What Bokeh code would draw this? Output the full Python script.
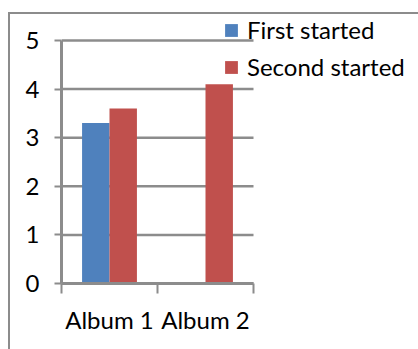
from bokeh.plotting import figure
from bokeh.layouts import column
from bokeh.models import Range1d, FixedTicker, ColumnDataSource, Legend, LegendItem
from bokeh.embed import file_html
from bokeh.resources import INLINE

# Data
albums = ["Album 1", "Album 2"]
first_started = [3.3, 0.0]
second_started = [3.6, 4.1]
y_ticks = [0, 1, 2, 3, 4, 5]

FONT = "Lato"
GREY = "#8c8c8c"
BLUE = "#4f81bd"
RED = "#c0504d"
FONT_SIZE = "24px"

# two bars per category with Excel's default 150% gap
n_series = 2
bar_w = 1.0 / (n_series + 1.5)
centers = [i + 0.5 for i in range(len(albums))]
n_cat = len(albums)
y_max = max(y_ticks)

src = ColumnDataSource(dict(
    x1=[c - bar_w / 2 for c in centers],
    x2=[c + bar_w / 2 for c in centers],
    first=first_started,
    second=second_started,
))

# the plotting area runs past the axes so that the legend fits inside it
p = figure(width=418, height=349, output_backend="svg", toolbar_location=None,
           x_range=Range1d(0, n_cat * 357 / 192), y_range=Range1d(0, y_max * 283 / 243),
           min_border_left=61, min_border_right=0,
           min_border_top=0, min_border_bottom=66)
p.outline_line_color = None
p.background_fill_color = None
p.border_fill_color = None
p.grid.visible = False

# horizontal gridlines across the category span only
p.segment(x0=0, x1=n_cat, y0=y_ticks, y1=y_ticks, line_color=GREY, line_width=2.5)

r1 = p.vbar(x="x1", top="first", width=bar_w, source=src, fill_color=BLUE, line_color=None)
r2 = p.vbar(x="x2", top="second", width=bar_w, source=src, fill_color=RED, line_color=None)

# y axis
p.yaxis.bounds = (0, y_max)
p.yaxis.ticker = FixedTicker(ticks=y_ticks, minor_ticks=[])
p.yaxis.axis_line_color = GREY
p.yaxis.axis_line_width = 3
p.yaxis.major_tick_line_color = GREY
p.yaxis.major_tick_line_width = 2
p.yaxis.major_tick_in = 0
p.yaxis.major_tick_out = 7
p.yaxis.minor_tick_line_color = None
p.yaxis.major_label_standoff = 15
p.yaxis.major_label_text_font = FONT
p.yaxis.major_label_text_font_size = FONT_SIZE
p.yaxis.major_label_text_color = "black"

# x axis: labels at category centres, tick marks at category boundaries
p.xaxis.bounds = (0, n_cat)
p.xaxis.ticker = FixedTicker(ticks=centers, minor_ticks=list(range(n_cat + 1)))
p.xaxis.major_label_overrides = {c: a for c, a in zip(centers, albums)}
p.xaxis.axis_line_color = GREY
p.xaxis.axis_line_width = 3
p.xaxis.major_tick_line_color = None
p.xaxis.minor_tick_line_color = GREY
p.xaxis.minor_tick_line_width = 2
p.xaxis.minor_tick_in = 0
p.xaxis.minor_tick_out = 10
p.xaxis.major_label_standoff = 11
p.xaxis.major_label_text_font = FONT
p.xaxis.major_label_text_font_size = FONT_SIZE
p.xaxis.major_label_text_color = "black"

legend = Legend(items=[LegendItem(label="First started", renderers=[r1]),
                       LegendItem(label="Second started", renderers=[r2])],
                location=(162, 202), orientation="vertical",
                border_line_color=None, background_fill_alpha=0,
                padding=0, margin=0, spacing=8,
                glyph_width=16, glyph_height=16, label_standoff=8,
                label_text_font=FONT, label_text_font_size=FONT_SIZE,
                label_text_color="black")
p.add_layout(legend, "center")

# chart-area border (left and top edges) painted behind the transparent figure
layout = column(p, width=418, height=349, styles={"background": (
    f"linear-gradient({GREY}, {GREY}) 8px 12px / 2px 400px no-repeat, "
    f"linear-gradient({GREY}, {GREY}) 8px 12px / 420px 2px no-repeat, white")})

open("out.html", "w").write(file_html(layout, INLINE))
